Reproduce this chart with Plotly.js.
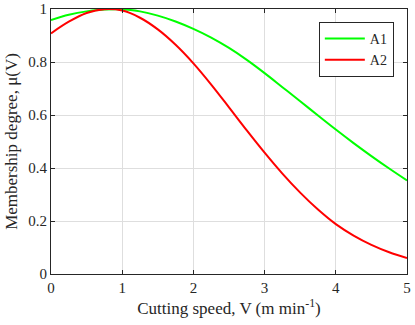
<!DOCTYPE html>
<html>
<head>
<meta charset="utf-8">
<script src="https://cdn.plot.ly/plotly-3.0.1.min.js"></script>
<style>
  html, body { margin: 0; padding: 0; background: #fff; }
  #chart { width: 415px; height: 325px; }
</style>
</head>
<body>
<div id="chart"></div>
<script>
  // cutting speed V (m/min) and membership values
  const speed = [0, 0.25, 0.5, 0.75, 1, 1.25, 1.5, 1.75, 2, 2.25, 2.5, 2.75, 3, 3.25, 3.5, 3.75, 4, 4.25, 4.5, 4.75, 5];
  const a1 = [0.958, 0.978, 0.991, 0.998, 0.999, 0.991, 0.975, 0.953, 0.925, 0.892, 0.853, 0.808, 0.758, 0.705, 0.652, 0.598, 0.545, 0.494, 0.445, 0.398, 0.353];
  const a2 = [0.908, 0.952, 0.985, 0.999, 0.994, 0.967, 0.923, 0.865, 0.795, 0.715, 0.629, 0.542, 0.458, 0.379, 0.307, 0.243, 0.188, 0.145, 0.110, 0.082, 0.060];
  const xTicks = [0, 1, 2, 3, 4, 5];
  const yTicks = [0, 0.2, 0.4, 0.6, 0.8, 1];

  const serif = "Liberation Serif";
  const ink = "#262626";

  const traces = [
    { x: speed, y: a1, type: "scatter", mode: "lines", name: "A1",
      line: { color: "#00ff00", width: 2, shape: "spline" } },
    { x: speed, y: a2, type: "scatter", mode: "lines", name: "A2",
      line: { color: "#ff0000", width: 2, shape: "spline" } }
  ];

  function axis(extra) {
    return Object.assign({
      showline: true, linecolor: ink, linewidth: 1, mirror: "ticks",
      ticks: "inside", ticklen: 4, tickcolor: ink,
      gridcolor: "#dedede", gridwidth: 1, zeroline: false,
      tickfont: { family: serif, size: 15, color: ink }
    }, extra);
  }

  const layout = {
    width: 415, height: 325,
    paper_bgcolor: "#fff", plot_bgcolor: "#fff",
    font: { family: serif, size: 15, color: ink },
    margin: { l: 51, r: 8, t: 9, b: 51 },
    showlegend: true,
    legend: {
      x: 0.963, y: 0.951, xanchor: "right", yanchor: "top",
      bgcolor: "#fff", bordercolor: ink, borderwidth: 1,
      font: { family: serif, size: 14, color: ink },
      itemwidth: 40, tracegroupgap: 0
    },
    xaxis: axis({
      range: [0, 5], tickvals: xTicks,
      title: { text: "Cutting speed, V (m min<sup>-1</sup>)", font: { family: serif, size: 17, color: ink }, standoff: 6 }
    }),
    yaxis: axis({
      range: [0, 1], tickvals: yTicks,
      title: { text: "Membership degree, μ(V)", font: { family: serif, size: 17, color: ink }, standoff: 6 }
    })
  };

  Plotly.newPlot("chart", traces, layout, { displayModeBar: false, staticPlot: true });
</script>
</body>
</html>
